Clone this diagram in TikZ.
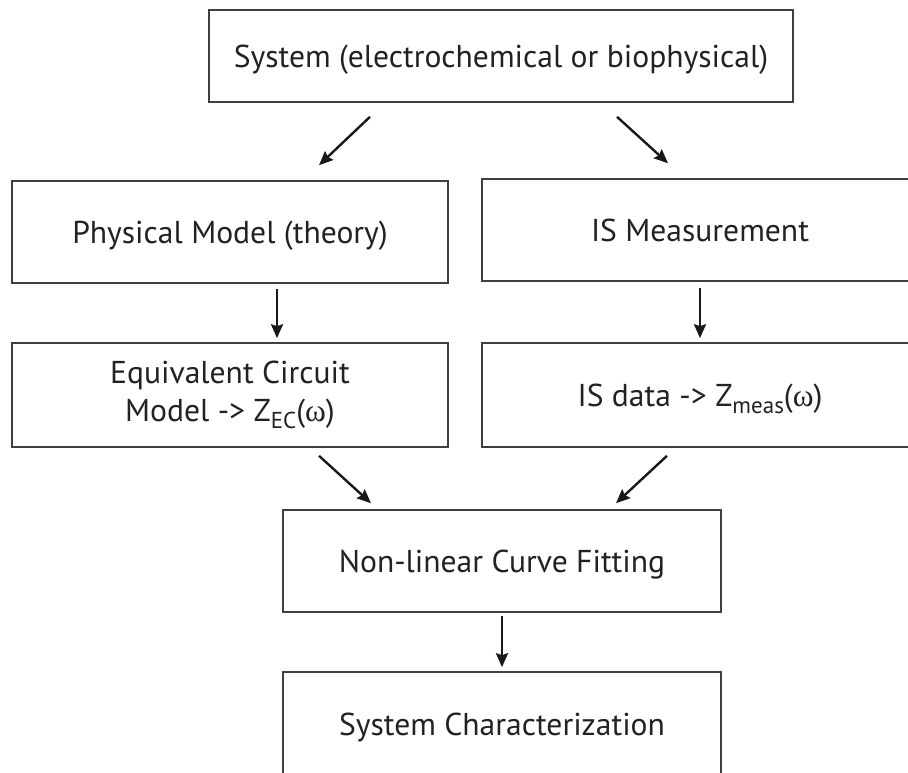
\documentclass[tikz,border=0pt]{standalone}
\usepackage{fontspec}
\setmainfont{PT Sans}
\newfontfamily\omegafont{Liberation Serif}
\usetikzlibrary{arrows.meta,calc}
\definecolor{boxline}{HTML}{404040}
\definecolor{txt}{HTML}{222222}
\newcommand\lowsub[1]{\raisebox{-7pt}{\fontsize{23}{23}\selectfont #1}}
\begin{document}
\begin{tikzpicture}[x=1pt,y=-1pt,
  box/.style={draw=boxline,line width=1.6pt,fill=white,text=txt,inner sep=0pt,align=center,
    font=\fontsize{31.6}{38}\selectfont},
  oneline/.style={text height=22pt,text depth=0pt},
  arr/.style={line width=2.4pt,draw=black!90,-{Stealth[length=14pt,width=12pt,inset=2pt]}}]
\useasboundingbox (0,0) rectangle (908,772);
\clip (0,0) rectangle (908,772);
\fill[white] (0,0) rectangle (908,772);
\node[box,oneline,minimum width=584pt,minimum height=92pt] (sys) at (501,56) {System (electrochemical or biophysical)};
\node[box,oneline,minimum width=436pt,minimum height=102pt] (pm) at (230,232) {Physical Model (theory)};
\node[box,oneline,minimum width=436pt,minimum height=102pt] (im) at (700,230) {IS Measurement};
\node[box,minimum width=436pt,minimum height=104pt] (ec) at (230,395) {Equivalent Circuit\\Model -> Z\lowsub{EC}({\omegafont ω})};
\node[box,oneline,minimum width=436pt,minimum height=104pt] (isd) at (700,395) {IS data -> Z\lowsub{meas}({\omegafont ω})};
\node[box,oneline,minimum width=438pt,minimum height=102pt] (fit) at (502,561) {Non-linear Curve Fitting};
\node[box,oneline,minimum width=438pt,minimum height=104pt] (ch) at (502,724) {System Characterization};
\draw[arr] ($(sys.south)+(-131,14)$) -- ($(pm.north)+(89,-15)$);
\draw[arr] ($(sys.south)+(116,14)$) -- ($(im.north)+(-32,-15)$);
\draw[arr] ($(pm.south)+(47,5)$) -- ($(ec.north)+(47,-4)$);
\draw[arr] ($(im.south)+(0,6)$) -- ($(isd.north)+(0,-4)$);
\draw[arr] ($(ec.south)+(89,8)$) -- ($(fit.north)+(-131,-6)$);
\draw[arr] ($(isd.south)+(-33,8)$) -- ($(fit.north)+(114,-6)$);
\draw[arr] ($(fit.south)+(0,3)$) -- ($(ch.north)+(0,-4)$);
\end{tikzpicture}
\end{document}
